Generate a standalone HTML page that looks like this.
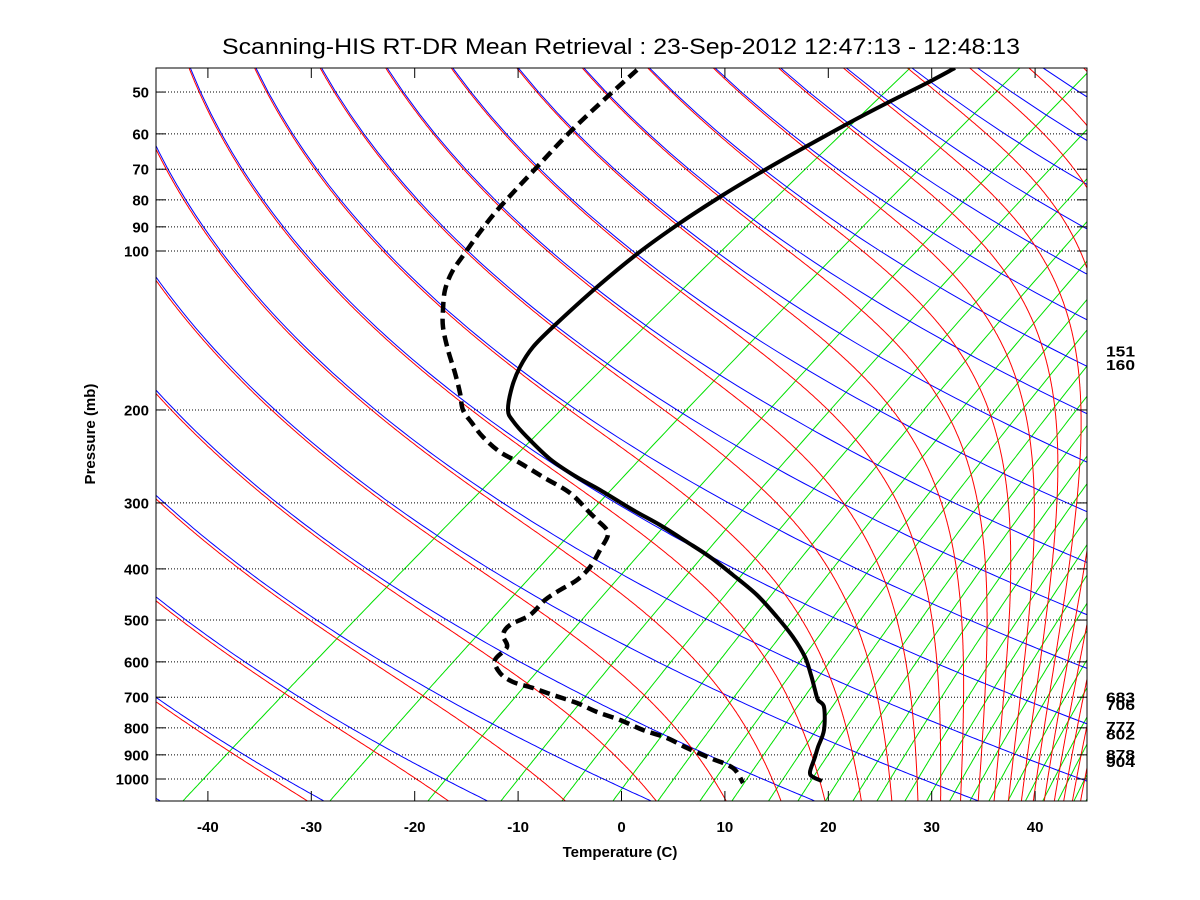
<!DOCTYPE html>
<html><head><meta charset="utf-8">
<style>
html,body{margin:0;padding:0;background:#fff;}
svg{display:block;}
text{font-family:"Liberation Sans",Arial,sans-serif;}
</style></head>
<body>
<svg id="s" width="1200" height="900" viewBox="0 0 1200 900" xmlns="http://www.w3.org/2000/svg">
<defs><clipPath id="c"><rect x="156" y="68" width="931" height="733"/></clipPath></defs>
<rect width="1200" height="900" fill="#fff"/>
<g id="bg" clip-path="url(#c)"></g>
<g id="grid"></g>
<g id="prof" clip-path="url(#c)"></g>
<rect x="156" y="68" width="931" height="733" fill="none" stroke="#000" stroke-width="1"/>
<g id="lab" font-weight="bold" font-size="15"></g>
<text x="621" y="54" font-size="22" text-anchor="middle" textLength="798" lengthAdjust="spacingAndGlyphs">Scanning-HIS RT-DR Mean Retrieval : 23-Sep-2012 12:47:13 - 12:48:13</text>
<text x="620" y="857" font-size="15" font-weight="bold" text-anchor="middle">Temperature (C)</text>
<text x="0" y="0" font-size="15" font-weight="bold" text-anchor="middle" transform="translate(95,434) rotate(-90)">Pressure (mb)</text>
</svg>
<script>
(function(){
var NS="http://www.w3.org/2000/svg";
var S=70;
function X(L){return 621.5+10.34*L;}
function Y(p){return 779-528*Math.log10(1000/p);}
function xTP(Tc,p){return X(Tc+S*Math.log10(1000/p));}
function el(tag,attrs,parent,txt){var e=document.createElementNS(NS,tag);for(var k in attrs)e.setAttribute(k,attrs[k]);if(txt!==undefined)e.textContent=txt;parent.appendChild(e);return e;}
var bg=document.getElementById('bg');
function poly(pts,col,w){el('polyline',{points:pts.map(function(a){return a[0].toFixed(1)+','+a[1].toFixed(1);}).join(' '),fill:'none',stroke:col,'stroke-width':w||1},bg);}
function es(Tc){return 6.112*Math.exp(17.67*Tc/(Tc+243.5));}
function labelFromX(x){return (x-621.5)/10.34;}
var pb=1100;
var gx=[183,330,428,501,562,613,658,700,732,768.6,798,825.5,853,877,905,926.6,949.7,970,989,1008,1025.5,1042.8,1058,1074,1086];
gx.forEach(function(x0){
  var T0=labelFromX(x0)-S*Math.log10(1000/pb);
  var e0=es(T0);var pts=[];
  for(var p=pb;p>=44;p-=5){var e=e0*p/pb;var l=Math.log(e/6.112);var Td=243.5*l/(17.67-l);pts.push([xTP(Td,p),Y(p)]);}
  poly(pts,'#00e000',1);
});
var kap=0.286;
var thetas=[];
for(var k=-3;k<=42;k++) thetas.push(240.6+15.4*k);
thetas.forEach(function(th){
  var pts=[];
  for(var p=pb;p>=44;p-=5){var T=th*Math.pow(p/1000,kap)-273.15;pts.push([xTP(T,p),Y(p)]);}
  poly(pts,'#0000ff',1);
});
var Rd=287.04,Cp=1005.7,Lv=2.501e6,eps=0.622;
function dTdp(T,p){var e=es(T-273.15);if(e>p*0.5)e=p*0.5;var rs=eps*e/(p-e);return (1/p)*(Rd*T+Lv*rs)/(Cp+Lv*Lv*rs*eps/(Rd*T*T));}
thetas.forEach(function(th){
  var p=10;var T=th*Math.pow(p/1000,kap);
  var pts=[];
  while(p<pb){
    var dp=Math.min(p*0.004,pb-p);
    var k1=dTdp(T,p);var k2=dTdp(T+k1*dp,p+dp);T+=0.5*(k1+k2)*dp;p+=dp;
    if(p>=40) pts.push([xTP(T-273.15,p),Y(p)]);
  }
  poly(pts,'#ff0000',1);
});
// smoothed profiles
function smooth(pts){
  var d='M'+pts[0][0]+','+pts[0][1];
  for(var i=0;i<pts.length-1;i++){
    var p0=pts[Math.max(i-1,0)],p1=pts[i],p2=pts[i+1],p3=pts[Math.min(i+2,pts.length-1)];
    var c1x=p1[0]+(p2[0]-p0[0])/6,c1y=p1[1]+(p2[1]-p0[1])/6;
    var c2x=p2[0]-(p3[0]-p1[0])/6,c2y=p2[1]-(p3[1]-p1[1])/6;
    d+=' C'+c1x.toFixed(1)+','+c1y.toFixed(1)+' '+c2x.toFixed(1)+','+c2y.toFixed(1)+' '+p2[0]+','+p2[1];
  }
  return d;
}
function parse(s){return s.trim().split(/\s+/).map(function(t){return t.split(',').map(Number);});}
var prof=document.getElementById('prof');
var Tp=parse("955,68 927,83 887,103 847,124 807,146 763,171 723,195 680,223 637,254 597,287 555,325 533,347 520,367 512,387 508,410 513,421 527,437 550,459 575,476 600,490 633,510 660,525 687,542 710,557 733,575 757,595 777,617 793,637 805,657 811,675 815,690 818,700 824,707 824,730 818,747 815,757 810,772 813,777 822,781");
var Dp=parse("637,70 607,97 570,132 537,167 500,207 480,232 465,253 452,272 445,290 443,310 443,327 448,350 455,373 460,393 463,410 472,423 483,437 500,452 520,463 543,477 570,493 590,513 597,520 608,533 600,550 590,567 577,580 560,590 545,600 530,615 510,625 503,635 507,647 495,660 500,673 513,682 533,688 553,695 577,703 597,712 620,720 643,730 667,738 687,748 710,758 733,768 743,783");
el('path',{d:smooth(Tp),fill:'none',stroke:'#000','stroke-width':4,'stroke-linejoin':'round'},prof);
el('path',{d:smooth(Dp),fill:'none',stroke:'#000','stroke-width':4.5,'stroke-dasharray':'11 6'},prof);
var grid=document.getElementById('grid');var lab=document.getElementById('lab');
var ps=[50,60,70,80,90,100,200,300,400,500,600,700,800,900,1000];
ps.forEach(function(p){var y=Y(p);
  el('line',{x1:156,x2:1087,y1:y,y2:y,stroke:'#000','stroke-width':1,'stroke-dasharray':'1 2'},grid);
  el('line',{x1:156,x2:166,y1:y,y2:y,stroke:'#000','stroke-width':1},grid);
  el('line',{x1:1077,x2:1087,y1:y,y2:y,stroke:'#000','stroke-width':1},grid);
  el('text',{x:149,y:(y+5.5).toFixed(1),'text-anchor':'end'},lab,String(p));
});
for(var L=-40;L<=40;L+=10){var x=X(L);
  el('line',{x1:x,x2:x,y1:791,y2:801,stroke:'#000','stroke-width':1},grid);
  el('line',{x1:x,x2:x,y1:68,y2:78,stroke:'#000','stroke-width':1},grid);
  el('text',{x:x.toFixed(1),y:832,'text-anchor':'middle'},lab,String(L));
}
[151,160,683,706,777,802,878,904].forEach(function(p){var y=Y(p);
  el('text',{x:1106,y:(y+11).toFixed(1),'font-size':'15',textLength:'29',lengthAdjust:'spacingAndGlyphs'},lab,String(p));
});
})();
</script>
</body></html>
